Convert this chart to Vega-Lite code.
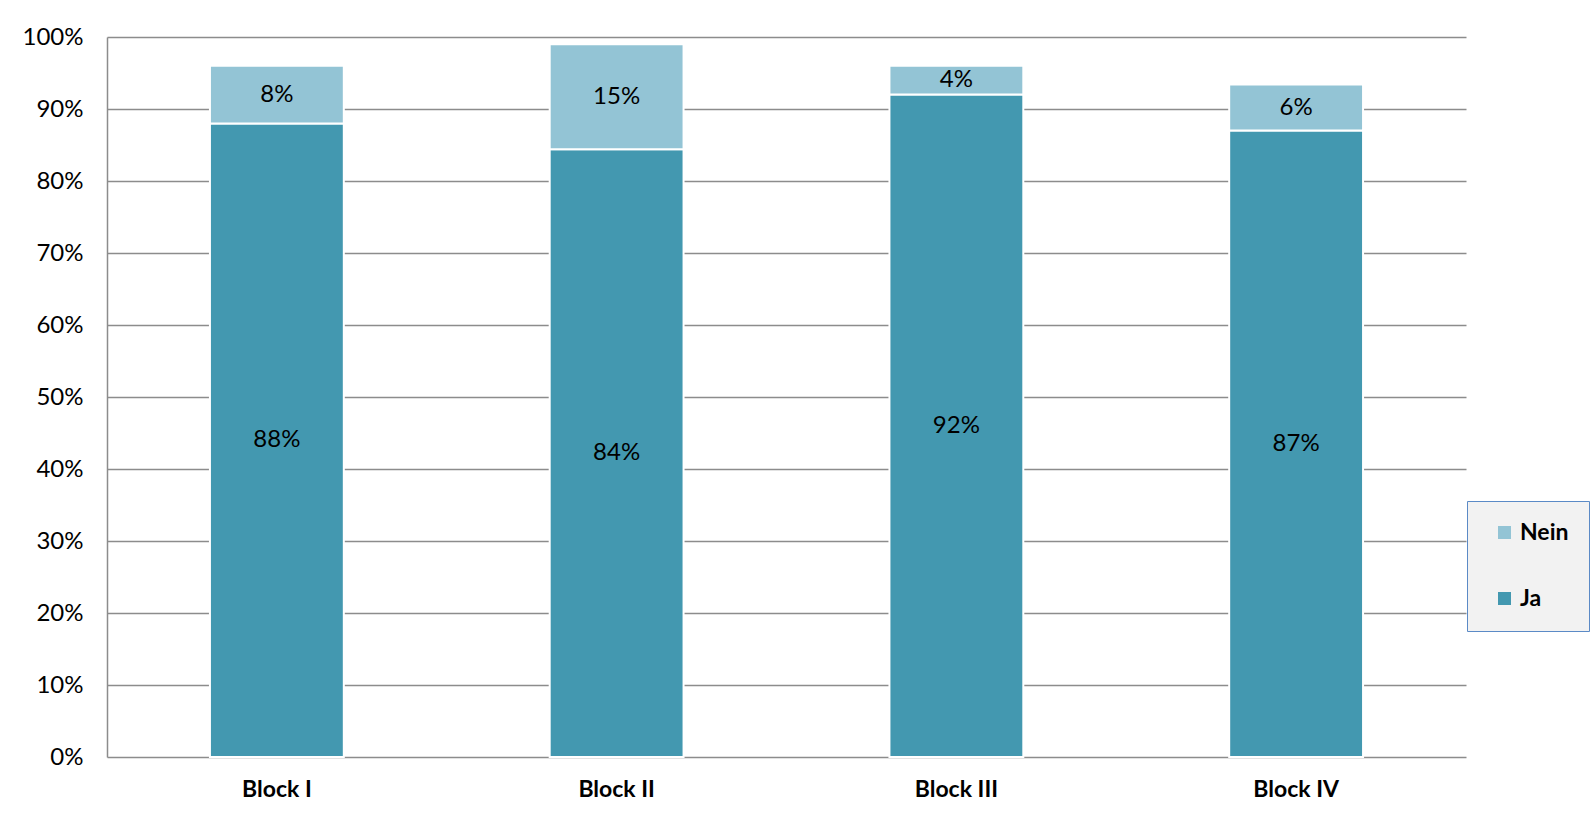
{
  "$schema": "https://vega.github.io/schema/vega-lite/v6.json",
  "width": 1359,
  "height": 720,
  "autosize": {"type": "none"},
  "padding": {"left": 107, "top": 37, "right": 127, "bottom": 64},
  "background": "white",
  "config": {
    "view": {"stroke": null},
    "font": "Lato"
  },
  "data": {
    "values": [
      {"Block": "Block I", "Antwort": "Ja", "Anteil": 0.88},
      {"Block": "Block I", "Antwort": "Nein", "Anteil": 0.08},
      {"Block": "Block II", "Antwort": "Ja", "Anteil": 0.844},
      {"Block": "Block II", "Antwort": "Nein", "Anteil": 0.146},
      {"Block": "Block III", "Antwort": "Ja", "Anteil": 0.92},
      {"Block": "Block III", "Antwort": "Nein", "Anteil": 0.04},
      {"Block": "Block IV", "Antwort": "Ja", "Anteil": 0.87},
      {"Block": "Block IV", "Antwort": "Nein", "Anteil": 0.064}
    ]
  },
  "transform": [
    {"stack": "Anteil", "groupby": ["Block"], "sort": [{"field": "Antwort", "order": "ascending"}], "as": ["y0", "y1"]},
    {"calculate": "(datum.y0 + datum.y1) / 2", "as": "ymid"}
  ],
  "encoding": {
    "x": {
      "field": "Block",
      "type": "nominal",
      "sort": null,
      "scale": {"paddingInner": 0.606, "paddingOuter": 0.303},
      "axis": {
        "title": null,
        "labelAngle": 0,
        "labelFontSize": 23,
        "labelFontWeight": "bold",
        "labelColor": "#000000",
        "labelPadding": 21,
        "ticks": false,
        "domain": false,
        "grid": false
      }
    }
  },
  "layer": [
    {
      "mark": {"type": "bar", "stroke": "white", "strokeWidth": 2},
      "encoding": {
        "y": {
          "field": "y0",
          "type": "quantitative",
          "scale": {"domain": [0, 1], "nice": false},
          "axis": {
            "title": null,
            "format": ".0%",
            "values": [0, 0.1, 0.2, 0.3, 0.4, 0.5, 0.6, 0.7, 0.8, 0.9, 1],
            "labelFontSize": 24,
            "labelColor": "#000000",
            "labelPadding": 24,
            "ticks": false,
            "grid": true,
            "gridColor": "#8c8c8c",
            "gridWidth": 1.5,
            "domain": true,
            "domainColor": "#8c8c8c",
            "domainWidth": 1.5
          }
        },
        "y2": {"field": "y1"},
        "color": {
          "field": "Antwort",
          "type": "nominal",
          "sort": ["Nein", "Ja"],
          "scale": {"domain": ["Nein", "Ja"], "range": ["#93c4d5", "#4398b0"]},
          "legend": {
            "title": null,
            "orient": "none",
            "legendX": 1360,
            "legendY": 464,
            "symbolType": "square",
            "symbolSize": 170,
            "symbolStrokeWidth": 0,
            "symbolOffset": 6,
            "labelFontSize": 23,
            "labelFontWeight": "bold",
            "labelColor": "#000000",
            "rowPadding": 42,
            "padding": 20,
            "fillColor": "#f2f2f2",
            "strokeColor": "#5b8ac6"
          }
        }
      }
    },
    {
      "mark": {"type": "text", "fontSize": 24, "color": "#000000", "baseline": "middle"},
      "encoding": {
        "y": {"field": "ymid", "type": "quantitative"},
        "text": {"field": "Anteil", "type": "quantitative", "format": ".0%"}
      }
    }
  ]
}
